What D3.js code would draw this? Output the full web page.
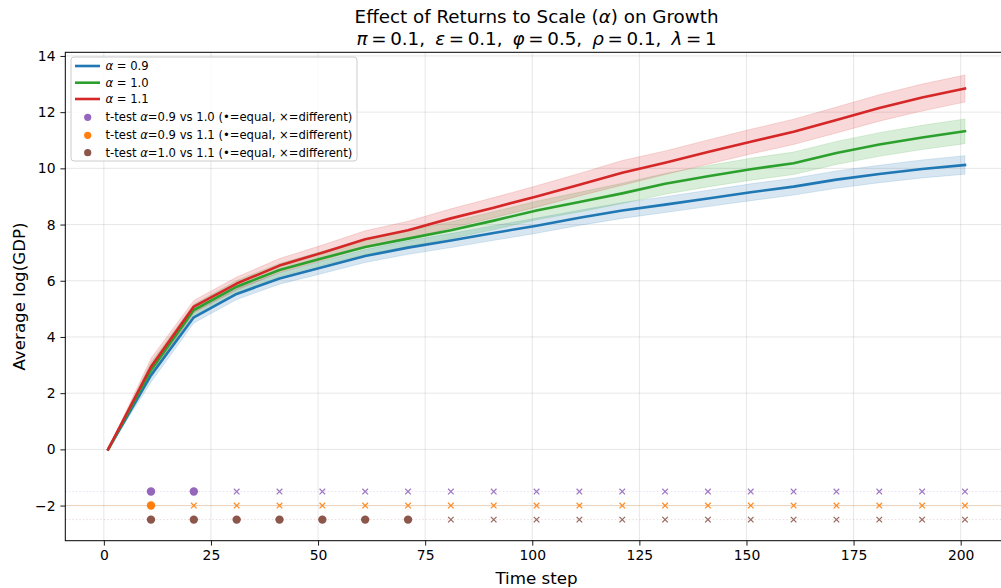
<!DOCTYPE html>
<html><head><meta charset="utf-8">
<script src="https://cdn.jsdelivr.net/npm/d3@7"></script>
<style>
html,body{margin:0;padding:0;background:#fff;overflow:hidden;}
text{font-family:"DejaVu Sans",sans-serif;fill:#000;}
</style></head>
<body><svg id="c" width="1001" height="588"></svg>
<script>
const timeSteps = [1,11,21,31,41,51,61,71,81,91,101,111,121,131,141,151,161,171,181,191,201];
const mean09 = [0,2.64,4.70,5.53,6.08,6.48,6.88,7.18,7.43,7.70,7.96,8.24,8.50,8.71,8.93,9.15,9.35,9.60,9.80,9.98,10.12];
const mean10 = [0,2.82,4.96,5.79,6.38,6.80,7.20,7.50,7.80,8.14,8.50,8.80,9.11,9.45,9.72,9.97,10.18,10.55,10.85,11.10,11.32];
const mean11 = [0,2.94,5.08,5.90,6.54,7.00,7.48,7.80,8.22,8.60,9.00,9.42,9.84,10.20,10.58,10.95,11.30,11.72,12.15,12.52,12.84];
const ci09 = [0,0.25,0.20,0.20,0.20,0.22,0.23,0.24,0.25,0.26,0.27,0.27,0.28,0.28,0.29,0.30,0.30,0.31,0.31,0.32,0.33];
const ci10 = [0,0.28,0.20,0.22,0.23,0.25,0.27,0.28,0.30,0.32,0.33,0.35,0.36,0.37,0.38,0.39,0.40,0.41,0.42,0.43,0.44];
const ci11 = [0,0.30,0.22,0.23,0.25,0.27,0.30,0.32,0.34,0.36,0.38,0.40,0.44,0.42,0.43,0.44,0.45,0.46,0.47,0.48,0.48];
const testSteps = [11,21,31,41,51,61,71,81,91,101,111,121,131,141,151,161,171,181,191,201];
const equal09v10 = [1,1,0,0,0,0,0,0,0,0,0,0,0,0,0,0,0,0,0,0];
const equal09v11 = [1,0,0,0,0,0,0,0,0,0,0,0,0,0,0,0,0,0,0,0];
const equal10v11 = [1,1,1,1,1,1,1,0,0,0,0,0,0,0,0,0,0,0,0,0];
const testLevels = [-1.5,-2.0,-2.5];
const xTicks = [0,25,50,75,100,125,150,175,200];
const yTicks = [-2,0,2,4,6,8,10,12,14];
const seriesNames = ["0.9","1.0","1.1"];

const svg = d3.select("#c");
const L=65.3, R=1007.8, T=52.3, B=540.7;
const x = d3.scaleLinear().domain([-9,211]).range([L,R]);
const y = d3.scaleLinear().domain([-3.25,14.13]).range([B,T]);

// grid
const g = svg.append("g");
g.selectAll(".gx").data(xTicks).join("line")
 .attr("x1",d=>x(d)).attr("x2",d=>x(d)).attr("y1",T).attr("y2",B)
 .attr("stroke","#b0b0b0").attr("stroke-opacity",0.3).attr("stroke-width",1);
g.selectAll(".gy").data(yTicks).join("line")
 .attr("x1",L).attr("x2",R).attr("y1",d=>y(d)).attr("y2",d=>y(d))
 .attr("stroke","#b0b0b0").attr("stroke-opacity",0.3).attr("stroke-width",1);

const colors = ["#1f77b4","#2ca02c","#d62728"];
const means = [mean09,mean10,mean11];
const cis = [ci09,ci10,ci11];

// bands
means.forEach((m,k)=>{
  const data = timeSteps.map((t,i)=>({t, lo:m[i]-cis[k][i], hi:m[i]+cis[k][i]}));
  svg.append("path").datum(data)
    .attr("d", d3.area().x(d=>x(d.t)).y0(d=>y(d.lo)).y1(d=>y(d.hi)))
    .attr("fill",colors[k]).attr("fill-opacity",0.18).attr("stroke",colors[k]).attr("stroke-opacity",0.15).attr("stroke-width",1);
});
// lines
means.forEach((m,k)=>{
  const data = timeSteps.map((t,i)=>({t, v:m[i]}));
  svg.append("path").datum(data)
    .attr("d", d3.line().x(d=>x(d.t)).y(d=>y(d.v)))
    .attr("fill","none").attr("stroke",colors[k]).attr("stroke-width",2.6)
    .attr("stroke-linejoin","round").attr("stroke-linecap","square");
});

// t-test rows
const tColors = ["#9467bd","#ff7f0e","#8c564b"];
const tests = [equal09v10,equal09v11,equal10v11];
tests.forEach((eq,k)=>{
  const lv = testLevels[k];
  svg.append("line").attr("x1",L).attr("x2",R).attr("y1",y(lv)).attr("y2",y(lv))
    .attr("stroke",tColors[k]).attr("stroke-opacity",0.25).attr("stroke-width",0.8)
    .attr("stroke-dasharray", k===1 ? null : "1.5,2");
  testSteps.forEach((t,i)=>{
    const cx=x(t), cy=y(lv);
    if(eq[i]){
      svg.append("circle").attr("cx",cx).attr("cy",cy).attr("r",4.2).attr("fill",tColors[k]);
    } else {
      const s=2.8;
      svg.append("path").attr("d",`M${cx-s},${cy-s}L${cx+s},${cy+s}M${cx-s},${cy+s}L${cx+s},${cy-s}`)
        .attr("stroke",tColors[k]).attr("stroke-width",1.2).attr("stroke-opacity",0.9).attr("fill","none");
    }
  });
});

// axes
const xa = svg.append("g").attr("transform",`translate(0,${B})`)
  .call(d3.axisBottom(x).tickValues(xTicks).tickSize(4.9).tickPadding(4.9).tickSizeOuter(0));
const ya = svg.append("g").attr("transform",`translate(${L},0)`)
  .call(d3.axisLeft(y).tickValues(yTicks).tickSize(4.9).tickPadding(4.9).tickSizeOuter(0)
    .tickFormat(d=> d<0 ? "\u2212"+Math.abs(d) : d));
[xa,ya].forEach(a=>{
  a.selectAll("text").attr("font-family","DejaVu Sans").attr("font-size","13.9px").attr("fill","#000");
  a.selectAll("line").attr("stroke","#000").attr("stroke-width",0.9);
  a.select(".domain").remove();
});
// spines
svg.append("rect").attr("x",L).attr("y",T).attr("width",R-L).attr("height",B-T)
  .attr("fill","none").attr("stroke","#000").attr("stroke-width",1);

// labels
svg.append("text").attr("x",(L+R)/2).attr("y",584).attr("text-anchor","middle")
  .attr("font-size","16.7px").text("Time step");
svg.append("text").attr("transform",`translate(25,${(T+B)/2}) rotate(-90)`).attr("text-anchor","middle")
  .attr("font-size","16.7px").text("Average log(GDP)");

// title
const cx0 = (L+R)/2;
const t1 = svg.append("text").attr("x",cx0).attr("y",23).attr("text-anchor","middle").attr("font-size","18.3px");
t1.append("tspan").text("Effect of Returns to Scale (");
t1.append("tspan").attr("font-style","italic").text("α");
t1.append("tspan").text(") on Growth");
const t2 = svg.append("text").attr("x",cx0).attr("y",45).attr("text-anchor","start").attr("font-size","18.3px");
const params = [["π","0.1"],["ε","0.1"],["φ","0.5"],["ρ","0.1"],["λ","1"]];
const gapSpans = [];
params.forEach((p,i)=>{
  const gs = t2.append("tspan").attr("font-style","italic").text(p[0]);
  if(i>0) gapSpans.push(gs);
  t2.append("tspan").text("\u2009=\u2009"+p[1]+(i<params.length-1?",":""));
});
{
  const natural = t2.node().getComputedTextLength();
  const target = 360;
  const gap = Math.max(8,(target-natural)/gapSpans.length);
  gapSpans.forEach(s=>s.attr("dx",gap));
  const total = natural + gap*gapSpans.length;
  t2.attr("x", cx0 - total/2);
}

// legend
const lg = svg.append("g");
lg.append("rect").attr("x",71).attr("y",57).attr("width",286).attr("height",104).attr("rx",3)
  .attr("fill","#fff").attr("fill-opacity",0.8).attr("stroke","#cccccc").attr("stroke-width",1);
const rowsY = [66,82.7,99,117.3,135.3,152.7];
seriesNames.forEach((n,k)=>{
  lg.append("line").attr("x1",75).attr("x2",100).attr("y1",rowsY[k]).attr("y2",rowsY[k])
    .attr("stroke",colors[k]).attr("stroke-width",2.6);
  const tx = lg.append("text").attr("x",105.5).attr("y",rowsY[k]+4).attr("font-size","11.6px");
  tx.append("tspan").attr("font-style","italic").text("α");
  tx.append("tspan").text(" = "+n);
});
const testLabels = [["0.9","1.0"],["0.9","1.1"],["1.0","1.1"]];
testLabels.forEach((p,k)=>{
  const yy = rowsY[3+k];
  lg.append("circle").attr("cx",87.7).attr("cy",yy).attr("r",3.6).attr("fill",tColors[k]);
  const tx = lg.append("text").attr("x",105.5).attr("y",yy+4).attr("font-size","11.6px");
  tx.append("tspan").text("t-test ");
  tx.append("tspan").attr("font-style","italic").text("α");
  tx.append("tspan").text("="+p[0]+" vs "+p[1]+" (•=equal, ×=different)");
});
</script></body></html>
